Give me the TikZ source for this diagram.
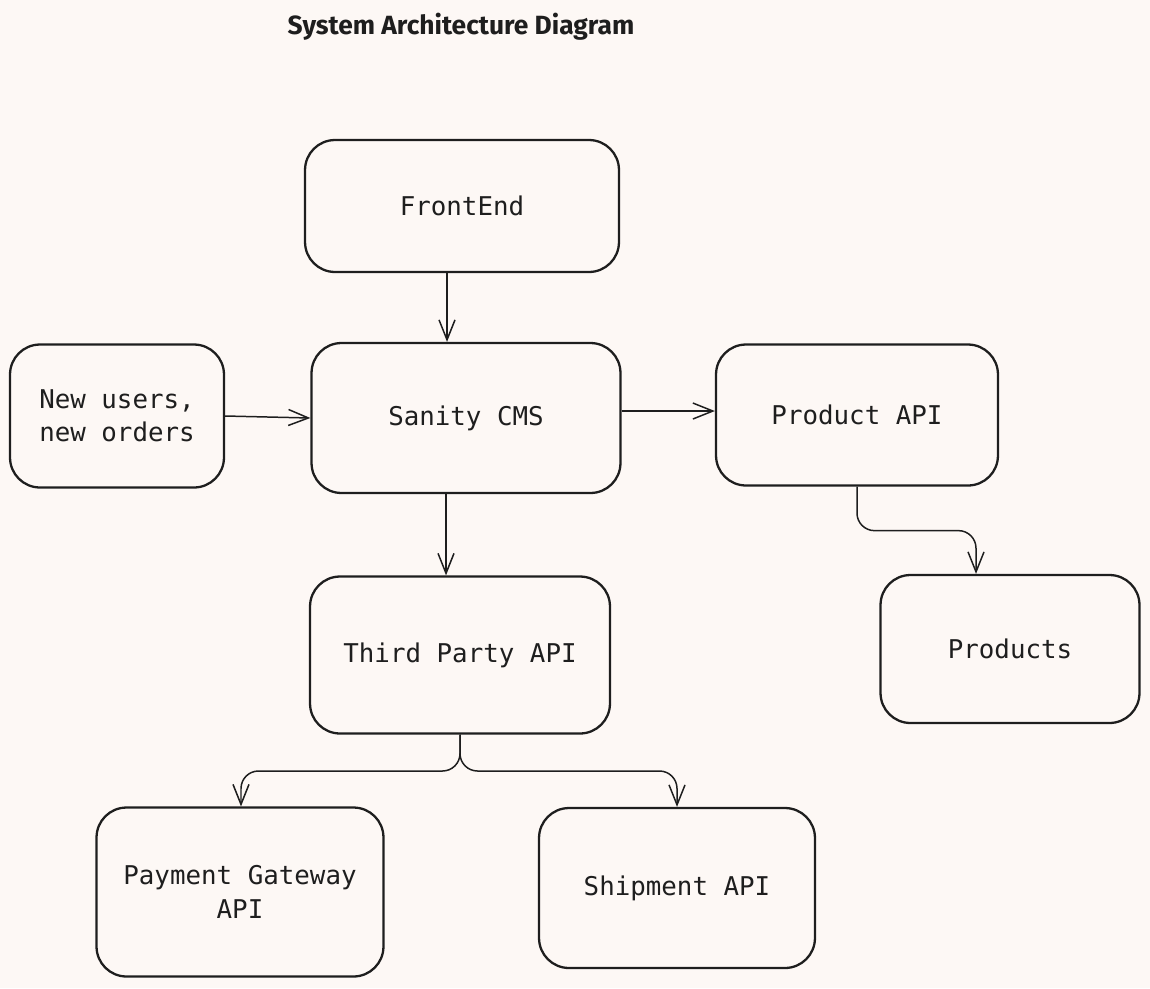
\documentclass[tikz,border=0pt]{standalone}
\usepackage{fontspec}
\setmainfont{DejaVu Sans Mono}
\newfontfamily\titlefont{Fira Sans}
\usetikzlibrary{arrows.meta}
\definecolor{paper}{RGB}{253,248,245}
\definecolor{ink}{RGB}{30,30,30}
\tikzset{
    block/.style={draw=ink, line width=1.3pt, rounded corners=0.6cm, align=center,
        font=\fontsize{14.7}{19}\selectfont, text=ink},
    flow/.style={draw=ink, line width=0.85pt, rounded corners=0.35cm,
        -{Straight Barb[length=0.4cm, width=0.32cm, line width=0.85pt]}}
}
\begin{document}
\begin{tikzpicture}[x=0.02cm, y=-0.02cm]
    \fill[paper] (0,0) rectangle (1150,988);
    \useasboundingbox (0,0) rectangle (1150,988);

    \node[font=\titlefont\bfseries\fontsize{15}{18}\selectfont, text=ink] (title) at (461,27) {System Architecture Diagram};

    %boxes
    \node[block, minimum width=6.28cm, minimum height=2.64cm] (front) at (462,206) {FrontEnd};
    \node[block, minimum width=6.18cm, minimum height=3.0cm] (cms) at (466,418) {Sanity CMS};
    \node[block, minimum width=4.28cm, minimum height=2.86cm] (input) at (117,416) {New users,\\new orders};
    \node[block, minimum width=5.64cm, minimum height=2.82cm] (prodapi) at (857,415) {Product API};
    \node[block, minimum width=5.18cm, minimum height=2.96cm] (products) at (1010,649) {Products};
    \node[block, minimum width=6.0cm, minimum height=3.14cm] (third) at (460,655) {Third Party API};
    \node[block, minimum width=5.74cm, minimum height=3.38cm] (payment) at (240,892) {Payment Gateway\\API};
    \node[block, minimum width=5.52cm, minimum height=3.2cm] (ship) at (677,888) {Shipment API};

    %connectors
    \draw[flow] (front.south -| 447,0) -- (cms.north -| 447,0);
    \draw[flow] (input.east) -- (cms.west);
    \draw[flow] (cms.east |- 0,411) -- (prodapi.west |- 0,411);
    \draw[flow] (cms.south -| 446,0) -- (third.north -| 446,0);
    \draw[flow] (prodapi.south) -- ++(0,44) -| (products.north -| 976,0);

    \coordinate (split) at (460,771);
    \foreach \target/\xpos in {payment/241,ship/677}
    {
        \draw[flow] (third.south) -- (split) -| (\target.north -| \xpos,0);
    }
\end{tikzpicture}
\end{document}
